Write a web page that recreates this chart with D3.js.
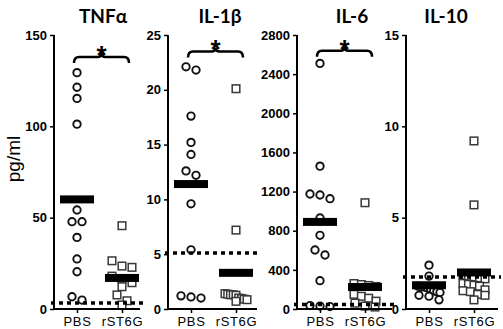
<!DOCTYPE html>
<html><head><meta charset="utf-8">
<script src="https://cdn.jsdelivr.net/npm/d3@7"></script>
<style>body{margin:0;background:#fff}</style>
</head><body>
<svg id="c" width="503" height="329"></svg>
<script>
// ---------- data ----------
const cytokines = ["TNFα", "IL-1β", "IL-6", "IL-10"];
const groups = ["PBS", "rST6G"];
const yMaxima = [150, 25, 2800, 15];
const tnfTicks = [0, 50, 100, 150];
const il1bTicks = [0, 5, 10, 15, 20, 25];
const il6Ticks = [0, 400, 800, 1200, 1600, 2000, 2400, 2800];
const il10Ticks = [0, 5, 10, 15];

const tnfPBS = [129.4, 121.4, 115.3, 101.2, 54.2, 47.8, 47.8, 39.2, 27.4, 20.4, 6.7, 4.9];
const tnfST6G = [45.6, 26.4, 23.5, 22.8, 18, 16.3, 14.4, 12.2, 7.7, 4.5, 2.2];
const il1bPBS = [22.1, 21.8, 17.6, 15.2, 14.1, 12.6, 12.2, 9.6, 5.4, 1.2, 1.1, 1.0];
const il1bST6G = [20.1, 7.2, 1.4, 1.35, 1.3, 1.3, 1.25, 1.0, 0.95, 0.9, 0.85, 0.7];
const il6PBS = [2510, 1460, 1175, 1165, 1127, 930, 753, 603, 552, 289, 35, 30, 25];
const il6ST6G = [1086, 260, 250, 240, 230, 150, 130, 110, 80, 60, 30, 20];
const il10PBS = [2.4, 1.8, 1.25, 1.2, 1.2, 1.15, 1.1, 1.0, 0.95, 0.9, 0.75, 0.7, 0.5];
const il10ST6G = [9.2, 5.7, 1.85, 1.8, 1.75, 1.7, 1.65, 1.4, 1.35, 1.3, 1.25, 1.05, 1.0, 0.95, 0.8, 0.75, 0.5];

const meansPBS = [60, 11.4, 890, 1.3];
const meansST6G = [17, 3.3, 225, 2.0];
const detectionLimits = [3.3, 5.1, 45, 1.75];
const bracketLevels = [138, 23.5, 2640, null];
const yLabel = "pg/ml";

// ---------- layout ----------
const allTicks = [tnfTicks, il1bTicks, il6Ticks, il10Ticks];
const allPBS = [tnfPBS, il1bPBS, il6PBS, il10PBS];
const allST6G = [tnfST6G, il1bST6G, il6ST6G, il10ST6G];
const axisLeftX = [54, 168, 297, 406];
const axisRightX = [140, 257, 392, 498];
const titleX = [103, 220, 352, 446];
const plotTop = 35, plotBottom = 309;

const svg = d3.select("#c");

function swarm(vals, y, cx) {
  const pts = vals.map(v => ({v, py: y(v)})).sort((a, b) => a.py - b.py);
  const rows = [];
  let cur = null;
  pts.forEach(p => {
    if (!cur || p.py - cur.start > 7) { cur = {start: p.py, pts: []}; rows.push(cur); }
    cur.pts.push(p);
  });
  rows.forEach(r => {
    const n = r.pts.length;
    const sp = n > 1 ? Math.min(10, 22 / (n - 1)) : 0;
    r.pts.forEach((p, j) => { p.px = cx + (j - (n - 1) / 2) * sp; });
  });
  return pts;
}

svg.append("text")
  .attr("transform", "translate(20,159) rotate(-90)")
  .attr("text-anchor", "middle")
  .style("font-family", "Liberation Sans, Arial, sans-serif")
  .style("font-size", "19px")
  .text(yLabel);

cytokines.forEach((name, i) => {
  const g = svg.append("g");
  const y = d3.scaleLinear().domain([0, yMaxima[i]]).range([plotBottom, plotTop]);
  const x = d3.scalePoint().domain(groups).range([axisLeftX[i] + 23, axisLeftX[i] + 68]);

  g.append("text").attr("x", titleX[i]).attr("y", 23)
    .attr("text-anchor", "middle")
    .style("font-family", "Lato, sans-serif").style("font-weight", "700")
    .style("font-size", "19px").text(name);

  const pbs = swarm(allPBS[i], y, x("PBS"));
  g.selectAll("circle.pbs").data(pbs).join("circle")
    .attr("cx", d => d.px).attr("cy", d => d.py).attr("r", 3.7)
    .attr("fill", "#fff").attr("stroke", "#111").attr("stroke-width", 1.9);
  const st = swarm(allST6G[i], y, x("rST6G"));
  g.selectAll("rect.st").data(st).join("rect")
    .attr("x", d => d.px - 3.8).attr("y", d => d.py - 3.8)
    .attr("width", 7.6).attr("height", 7.6)
    .attr("fill", "#fff").attr("stroke", "#383838").attr("stroke-width", 1.5);

  [["PBS", meansPBS[i]], ["rST6G", meansST6G[i]]].forEach(([grp, m]) => {
    g.append("rect").attr("x", x(grp) - 17).attr("y", y(m) - 4)
      .attr("width", 34).attr("height", 8).attr("fill", "#000");
  });

  g.append("line")
    .attr("x1", axisLeftX[i] - 3).attr("x2", axisRightX[i] + 3)
    .attr("y1", y(detectionLimits[i])).attr("y2", y(detectionLimits[i]))
    .attr("stroke", "#000").attr("stroke-width", 3.5).attr("stroke-dasharray", "4,4");

  const ya = g.append("g").attr("transform", `translate(${axisLeftX[i]},0)`)
    .call(d3.axisLeft(y).tickValues(allTicks[i]).tickSize(4).tickSizeOuter(0).tickPadding(3).tickFormat(d3.format("d")));
  ya.select(".domain").attr("stroke-width", 2).attr("d", `M0,${plotTop}V${plotBottom + 1}`);
  ya.selectAll(".tick line").attr("stroke-width", 1.5);
  ya.selectAll("text").style("font-family", "Liberation Sans, Arial, sans-serif")
    .style("font-weight", "700").style("font-size", "13px").attr("fill", "#000");

  g.append("line").attr("x1", axisLeftX[i] - 1).attr("x2", axisRightX[i])
    .attr("y1", plotBottom).attr("y2", plotBottom).attr("stroke", "#000").attr("stroke-width", 2);
  const xa = g.append("g").attr("transform", `translate(0,${plotBottom})`)
    .call(d3.axisBottom(x).tickSize(4).tickSizeOuter(0));
  xa.select(".domain").remove();
  xa.selectAll(".tick line").attr("stroke-width", 1.5);
  xa.selectAll("text").attr("y", 17).attr("dy", 0)
    .style("font-family", "Liberation Sans, Arial, sans-serif")
    .style("font-size", "13px").style("letter-spacing", "0.6px").attr("fill", "#000");

  if (bracketLevels[i] !== null) {
    const y0 = y(bracketLevels[i]);
    const x1 = x("PBS") - 3, x2 = x("rST6G") + 7, mid = (x1 + x2) / 2;
    const p = d3.path();
    p.moveTo(x1, y0 + 6);
    p.quadraticCurveTo(x1, y0, x1 + 5, y0);
    p.lineTo(mid - 4, y0);
    p.quadraticCurveTo(mid, y0, mid, y0 - 4);
    p.quadraticCurveTo(mid, y0, mid + 4, y0);
    p.lineTo(x2 - 5, y0);
    p.quadraticCurveTo(x2, y0, x2, y0 + 6);
    g.append("path").attr("d", p.toString()).attr("fill", "none")
      .attr("stroke", "#000").attr("stroke-width", 2.5);
    g.append("text").attr("x", mid).attr("y", y0 + 7).attr("text-anchor", "middle")
      .style("font-family", "Liberation Sans, Arial, sans-serif").style("font-weight", "700")
      .style("font-size", "26px").text("*");
  }
});
</script>
</body></html>
